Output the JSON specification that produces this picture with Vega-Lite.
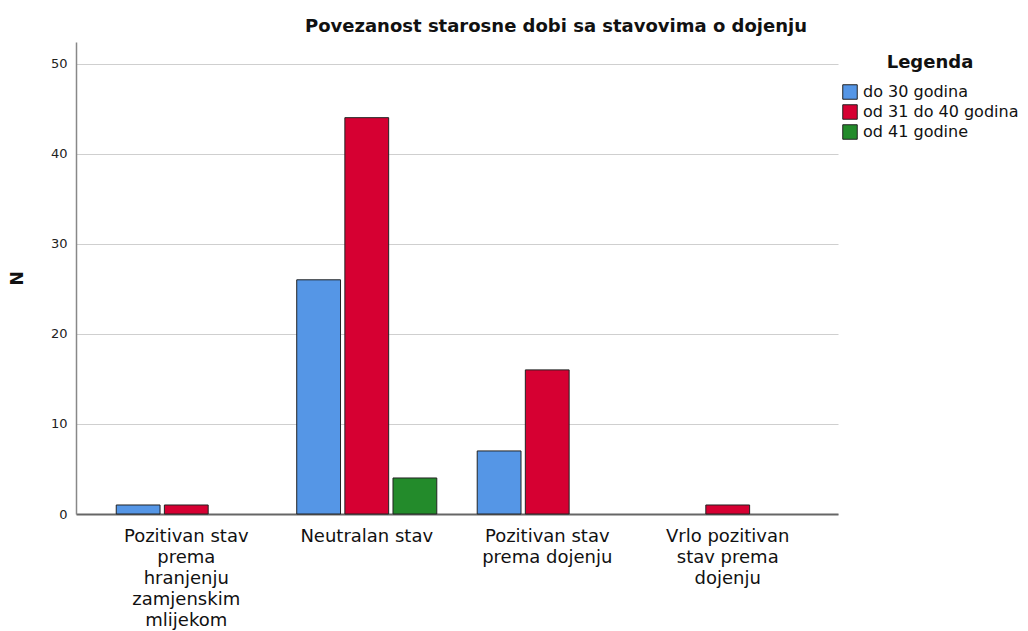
{
  "$schema": "https://vega.github.io/schema/vega-lite/v6.json",
  "autosize": {"type": "none"},
  "padding": {"left": 76, "top": 42, "right": 190, "bottom": 117},
  "width": 762,
  "height": 472,
  "background": "white",
  "title": {
    "text": "Povezanost starosne dobi sa stavovima o dojenju",
    "font": "DejaVu Sans",
    "fontSize": 18,
    "fontWeight": "bold",
    "color": "#111",
    "anchor": "middle",
    "frame": "group",
    "dx": 99,
    "offset": 6
  },
  "data": {
    "values": [
      {"stav": "Pozitivan stav prema hranjenju zamjenskim mlijekom", "dob": "do 30 godina", "n": 1},
      {"stav": "Pozitivan stav prema hranjenju zamjenskim mlijekom", "dob": "od 31 do 40 godina", "n": 1},
      {"stav": "Neutralan stav", "dob": "do 30 godina", "n": 26},
      {"stav": "Neutralan stav", "dob": "od 31 do 40 godina", "n": 44},
      {"stav": "Neutralan stav", "dob": "od 41 godine", "n": 4},
      {"stav": "Pozitivan stav prema dojenju", "dob": "do 30 godina", "n": 7},
      {"stav": "Pozitivan stav prema dojenju", "dob": "od 31 do 40 godina", "n": 16},
      {"stav": "Vrlo pozitivan stav prema dojenju", "dob": "od 31 do 40 godina", "n": 1}
    ]
  },
  "mark": {"type": "bar", "stroke": "#222222", "strokeWidth": 1},
  "encoding": {
    "x": {
      "field": "stav",
      "type": "nominal",
      "sort": ["Pozitivan stav prema hranjenju zamjenskim mlijekom", "Neutralan stav", "Pozitivan stav prema dojenju", "Vrlo pozitivan stav prema dojenju"],
      "scale": {"paddingInner": 0.224, "paddingOuter": 0.223},
      "axis": {
        "title": null,
        "labelAngle": 0,
        "labelFont": "DejaVu Sans",
        "labelFontSize": 18,
        "labelColor": "#111",
        "labelLineHeight": 21,
        "labelPadding": 13,
        "labelBaseline": "top",
        "ticks": false,
        "domainColor": "#666",
        "domainWidth": 2,
        "labelExpr": "datum.value == 'Pozitivan stav prema hranjenju zamjenskim mlijekom' ? ['Pozitivan stav','prema','hranjenju','zamjenskim','mlijekom'] : datum.value == 'Pozitivan stav prema dojenju' ? ['Pozitivan stav','prema dojenju'] : datum.value == 'Vrlo pozitivan stav prema dojenju' ? ['Vrlo pozitivan','stav prema','dojenju'] : datum.value"
      }
    },
    "xOffset": {
      "field": "dob",
      "type": "nominal",
      "sort": ["do 30 godina", "od 31 do 40 godina", "od 41 godine"],
      "scale": {"domain": ["do 30 godina", "od 31 do 40 godina", "od 41 godine"], "paddingInner": 0.09, "paddingOuter": 0}
    },
    "y": {
      "field": "n",
      "type": "quantitative",
      "scale": {"domain": [0, 52.4], "nice": false},
      "axis": {
        "title": "N",
        "titleFont": "DejaVu Sans",
        "titleFontSize": 17,
        "titleFontWeight": "bold",
        "titleColor": "#111",
        "titlePadding": 24,
        "values": [0, 10, 20, 30, 40, 50],
        "labelFont": "DejaVu Sans",
        "labelFontSize": 13,
        "labelColor": "#222",
        "labelPadding": 9,
        "ticks": false,
        "domainColor": "#888",
        "domainWidth": 1.5,
        "gridColor": "#cfcfcf",
        "gridWidth": 1.2
      }
    },
    "color": {
      "field": "dob",
      "type": "nominal",
      "scale": {"domain": ["do 30 godina", "od 31 do 40 godina", "od 41 godine"], "range": ["#5596E6", "#D60032", "#238B2B"]},
      "legend": {
        "title": "Legenda",
        "orient": "none",
        "legendX": 766,
        "legendY": 12,
        "padding": 0,
        "titleFont": "DejaVu Sans",
        "titleFontSize": 18,
        "titleFontWeight": "bold",
        "titleColor": "#111",
        "titleAnchor": "middle",
        "titlePadding": 12,
        "labelFont": "DejaVu Sans",
        "labelFontSize": 16,
        "labelColor": "#111",
        "labelOffset": 5,
        "symbolType": "square",
        "symbolSize": 210,
        "symbolStrokeColor": "#222",
        "symbolStrokeWidth": 1,
        "rowPadding": 0
      }
    }
  },
  "config": {"view": {"stroke": null}}
}
